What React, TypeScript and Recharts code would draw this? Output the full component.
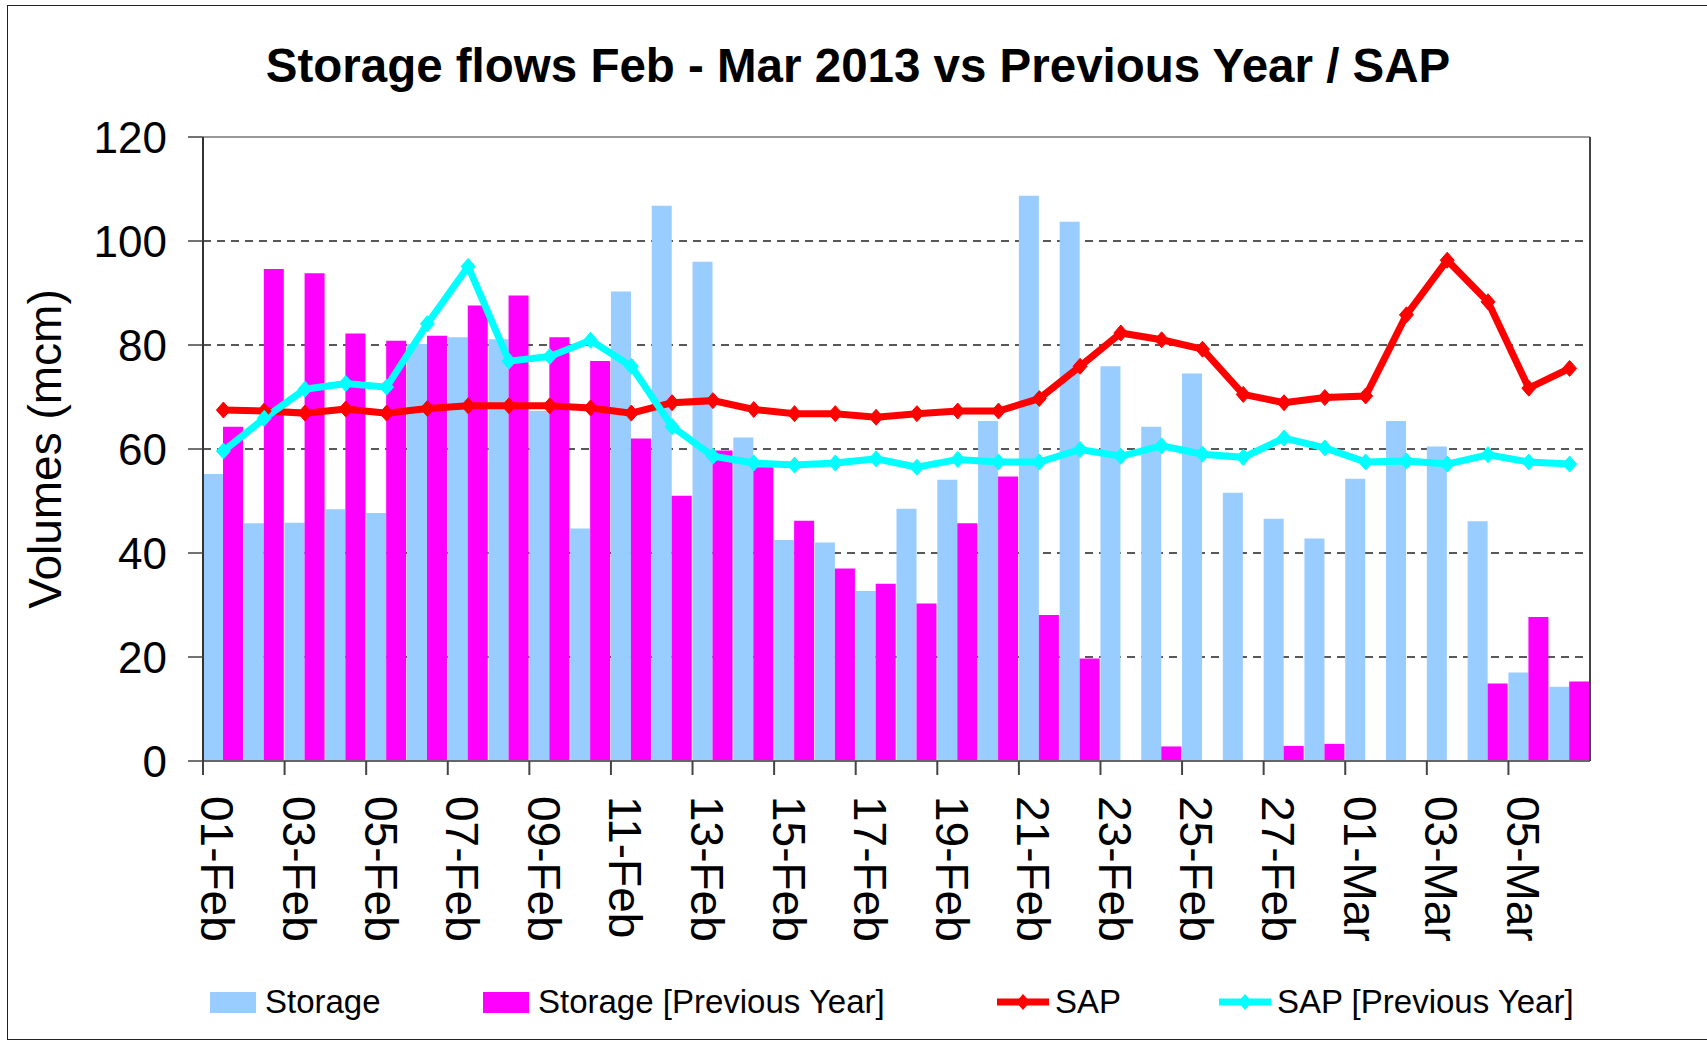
import React from 'react';
import {
    ComposedChart,
    Bar,
    Line,
    XAxis,
    YAxis,
    CartesianGrid,
    ReferenceLine,
} from 'recharts';

// values (mcm)
const dates = [
    '01-Feb', '02-Feb', '03-Feb', '04-Feb', '05-Feb', '06-Feb', '07-Feb', '08-Feb', '09-Feb', '10-Feb',
    '11-Feb', '12-Feb', '13-Feb', '14-Feb', '15-Feb', '16-Feb', '17-Feb', '18-Feb', '19-Feb', '20-Feb',
    '21-Feb', '22-Feb', '23-Feb', '24-Feb', '25-Feb', '26-Feb', '27-Feb', '28-Feb',
    '01-Mar', '02-Mar', '03-Mar', '04-Mar', '05-Mar', '06-Mar',
];
const storage = [
    55.2, 45.7, 45.8, 48.4, 47.7, 80.2, 81.5, 81.1, 67.3, 44.7,
    90.3, 106.8, 96.0, 62.2, 42.5, 42.0, 32.7, 48.5, 54.1, 65.4,
    108.7, 103.7, 75.9, 64.3, 74.5, 51.6, 46.6, 42.8,
    54.3, 65.4, 60.5, 46.1, 17.0, 14.3,
];
const storagePrevYear = [
    64.3, 94.6, 93.8, 82.2, 80.8, 81.8, 87.6, 89.5, 81.5, 76.9,
    62.0, 51.0, 59.7, 56.5, 46.2, 37.0, 34.1, 30.3, 45.7, 54.7,
    28.1, 19.7, 0, 2.8, 0, 0, 2.9, 3.3,
    0, 0, 0, 14.9, 27.7, 15.3,
];
const sap = [
    67.5, 67.3, 66.9, 67.7, 66.9, 67.8, 68.3, 68.3, 68.3, 67.9,
    66.9, 68.9, 69.3, 67.6, 66.8, 66.8, 66.1, 66.8, 67.3, 67.3,
    69.7, 75.9, 82.3, 81.0, 79.2, 70.5, 68.9, 69.9,
    70.2, 85.8, 96.3, 88.3, 71.7, 75.5,
];
const sapPrevYear = [
    59.6, 65.9, 71.5, 72.6, 71.9, 84.1, 95.1, 76.9, 77.8, 80.9,
    75.9, 64.3, 58.6, 57.3, 56.9, 57.3, 58.1, 56.5, 58.0, 57.5,
    57.5, 59.9, 58.6, 60.6, 59.0, 58.4, 62.1, 60.2,
    57.5, 57.7, 57.1, 58.9, 57.5, 57.1,
];
const yTicks = [0, 20, 40, 60, 80, 100, 120];

const chartData = dates.map((date, i) => ({
    date,
    storage: storage[i],
    storagePrev: storagePrevYear[i],
    sap: sap[i],
    sapPrev: sapPrevYear[i],
}));

const W = 1707;
const H = 1042;
const PLOT_LEFT = 203;
const PLOT_RIGHT = 1590;
const PLOT_TOP = 137;
const PLOT_BOTTOM = 761;
const BAND = (PLOT_RIGHT - PLOT_LEFT) / dates.length;
const FONT = '"Liberation Sans", Arial, Helvetica, sans-serif';

const BLUE = '#99CCFF';
const MAGENTA = '#FF00FF';
const RED = '#FF0000';
const CYAN = '#00FFFF';

function Diamond({ cx, cy, color }: { cx?: number; cy?: number; color: string }) {
    if (cx == null || cy == null) return null;
    return <polygon points={`${cx},${cy - 8} ${cx + 7},${cy} ${cx},${cy + 8} ${cx - 7},${cy}`} fill={color} stroke={color} strokeWidth={1} />;
}

function DateTick(props: any) {
    const { x, payload, index } = props;
    const tickX = x - BAND / 2;
    const tx = x - 22;
    const ty = PLOT_BOTTOM + 35;
    return (
        <g>
            <line x1={tickX} y1={PLOT_BOTTOM} x2={tickX} y2={PLOT_BOTTOM + 14} stroke="#444" strokeWidth={2} />
            {index === dates.length - 2 && (
                <line x1={PLOT_RIGHT} y1={PLOT_BOTTOM} x2={PLOT_RIGHT} y2={PLOT_BOTTOM + 14} stroke="#444" strokeWidth={2} />
            )}
            <text x={tx} y={ty} transform={`rotate(90, ${tx}, ${ty})`} textAnchor="start" fontSize={46} fontFamily={FONT} fill="#000">
                {payload.value}
            </text>
        </g>
    );
}

function RightTick(props: any) {
    const { y, payload } = props;
    return (
        <g>
            <line x1={PLOT_RIGHT - 16} y1={y} x2={PLOT_RIGHT + 14} y2={y} stroke="#444" strokeWidth={1.5} />
            <text x={PLOT_RIGHT + 37} y={y} dy="0.36em" textAnchor="start" fontSize={44} fontFamily={FONT} fill="#000">
                {payload.value}
            </text>
        </g>
    );
}

const legendItems = [
    { name: 'Storage', color: BLUE, kind: 'bar', x: 210 },
    { name: 'Storage [Previous Year]', color: MAGENTA, kind: 'bar', x: 483 },
    { name: 'SAP', color: RED, kind: 'line', x: 997 },
    { name: 'SAP [Previous Year]', color: CYAN, kind: 'line', x: 1219 },
];

export default function App() {
    return (
        <div style={{ position: 'absolute', left: 0, top: 0, width: W, height: H, background: '#fff', overflow: 'hidden', fontFamily: FONT }}>
            <div style={{ position: 'absolute', left: 7, top: 5, width: W + 20, height: 1035, border: '1.5px solid #222', boxSizing: 'border-box' }} />
            <div style={{ position: 'absolute', left: 158, top: 42, width: 1400, textAlign: 'center', fontSize: 47.5, lineHeight: '47px', fontWeight: 'bold', color: '#000' }}>
                Storage flows Feb - Mar 2013 vs Previous Year / SAP
            </div>
            <div style={{ position: 'absolute', left: 0, top: 0 }}>
                <ComposedChart
                    width={W}
                    height={H}
                    data={chartData}
                    margin={{ top: PLOT_TOP, right: 0, bottom: 0, left: 0 }}
                    barCategoryGap={0}
                    barGap={0}
                >
                    <CartesianGrid vertical={false} stroke="#222" strokeWidth={1.3} strokeDasharray="8 6" yAxisId="left" />
                    <XAxis
                        dataKey="date"
                        interval={1}
                        height={H - PLOT_BOTTOM}
                        tick={<DateTick />}
                        tickLine={false}
                        axisLine={{ stroke: '#666', strokeWidth: 2 }}
                    />
                    <YAxis
                        yAxisId="left"
                        domain={[0, 120]}
                        ticks={yTicks}
                        width={PLOT_LEFT}
                        tickSize={15}
                        tickMargin={21}
                        tick={{ fontSize: 44, fill: '#000', fontFamily: FONT }}
                        tickLine={{ stroke: '#444', strokeWidth: 1.5 }}
                        axisLine={{ stroke: '#333', strokeWidth: 2 }}
                        label={{
                            value: 'Volumes (mcm)',
                            content: () => (
                                <text x={61} y={449} transform="rotate(-90, 61, 449)" textAnchor="middle" fontSize={46} fontFamily={FONT} fill="#000">
                                    Volumes (mcm)
                                </text>
                            ),
                        }}
                    />
                    <YAxis
                        yAxisId="right"
                        orientation="right"
                        domain={[0, 120]}
                        ticks={yTicks}
                        width={W - PLOT_RIGHT}
                        tick={<RightTick />}
                        tickLine={false}
                        axisLine={{ stroke: '#444', strokeWidth: 2 }}
                    />
                    <ReferenceLine yAxisId="left" y={120} stroke="#999" strokeWidth={2} />
                    <Bar yAxisId="left" dataKey="storage" name="Storage" fill={BLUE} isAnimationActive={false} />
                    <Bar yAxisId="left" dataKey="storagePrev" name="Storage [Previous Year]" fill={MAGENTA} isAnimationActive={false} />
                    <Line
                        yAxisId="left"
                        type="linear"
                        dataKey="sap"
                        name="SAP"
                        stroke={RED}
                        strokeWidth={7}
                        dot={(p: any) => <Diamond key={`sap-${p.index}`} cx={p.cx} cy={p.cy} color={RED} />}
                        isAnimationActive={false}
                    />
                    <Line
                        yAxisId="left"
                        type="linear"
                        dataKey="sapPrev"
                        name="SAP [Previous Year]"
                        stroke={CYAN}
                        strokeWidth={7}
                        dot={(p: any) => <Diamond key={`sapp-${p.index}`} cx={p.cx} cy={p.cy} color={CYAN} />}
                        isAnimationActive={false}
                    />
                </ComposedChart>
            </div>
            {legendItems.map((item) => (
                <div key={item.name} style={{ position: 'absolute', left: item.x, top: 982, height: 40, display: 'flex', alignItems: 'center' }}>
                    {item.kind === 'bar' ? (
                        <div style={{ width: 46, height: 21, background: item.color, marginRight: 9 }} />
                    ) : (
                        <svg width={52} height={18} style={{ marginRight: 6 }}>
                            <line x1={0} y1={9} x2={52} y2={9} stroke={item.color} strokeWidth={7} />
                            <polygon points="26,1 33,9 26,17 19,9" fill={item.color} />
                        </svg>
                    )}
                    <span style={{ fontSize: 33, color: '#000', whiteSpace: 'nowrap' }}>{item.name}</span>
                </div>
            ))}
        </div>
    );
}
